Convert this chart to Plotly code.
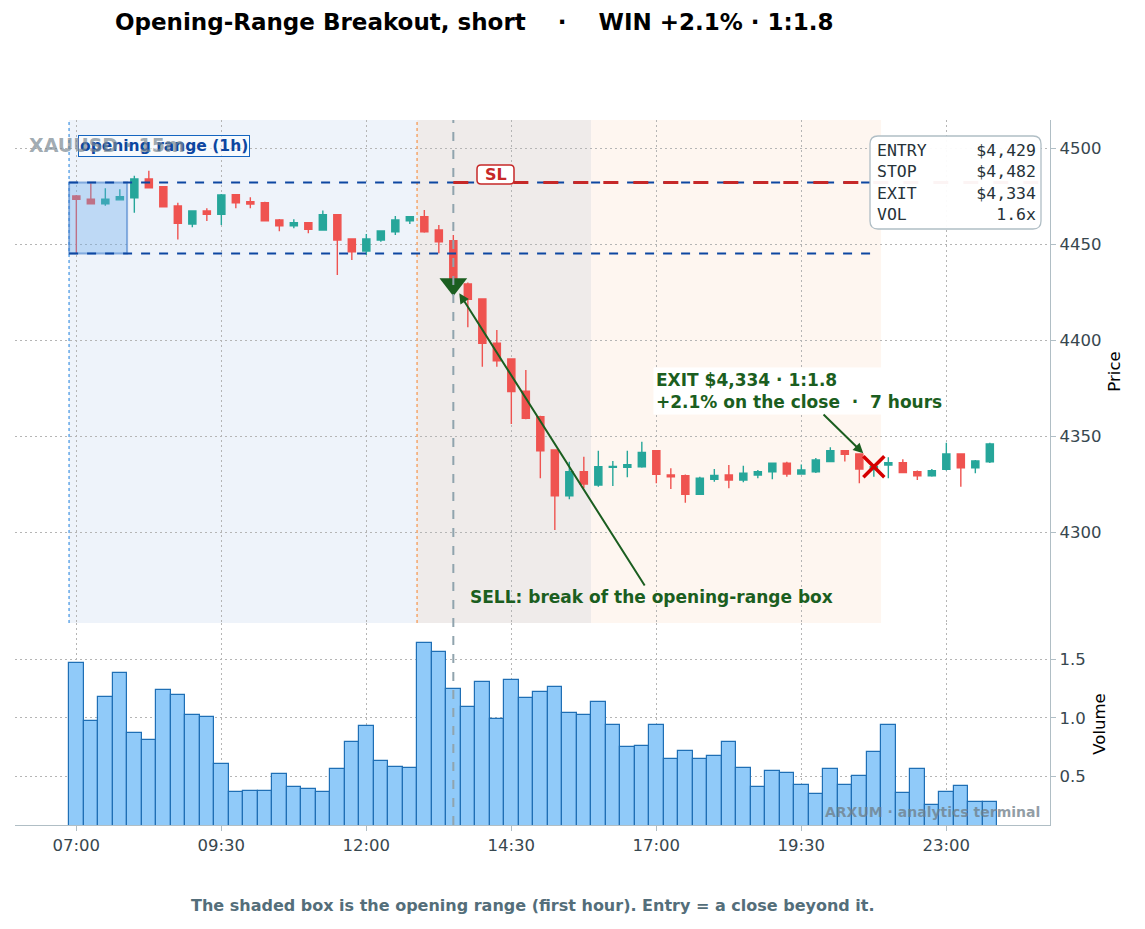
import plotly.graph_objects as go

# ---------------- data ----------------
times = ["07:00","07:15","07:30","07:45","08:00","08:15","08:30","08:45","09:00","09:15",
         "09:30","09:45","10:00","10:15","10:30","10:45","11:00","11:15","11:30","11:45",
         "12:00","12:15","12:30","12:45","13:00","13:15","13:30","13:45","14:00","14:15",
         "14:30","14:45","15:00","15:15","15:30","15:45","16:00","16:15","16:30","16:45",
         "17:00","17:15","17:30","17:45","18:00","18:15","18:30","18:45","19:00","19:15",
         "19:30","19:45","20:00","20:15","20:30","20:45","21:00","21:15","21:30","21:45",
         "23:00","23:15","23:30","23:45"]

opens = [4475.0,4473.4,4471.0,4473.0,4474.1,4483.9,4479.9,4469.8,4460.4,4467.2,
         4465.5,4475.7,4472.0,4471.5,4462.5,4459.5,4461.1,4457.3,4465.3,4452.6,
         4446.4,4452.1,4456.4,4462.1,4464.2,4457.3,4451.7,4429.2,4421.4,4398.3,
         4390.1,4373.4,4360.1,4342.7,4318.8,4331.4,4324.5,4333.7,4333.7,4334.0,
         4342.3,4329.7,4329.3,4319.6,4327.5,4329.7,4327.1,4329.7,4331.4,4335.8,
         4330.2,4331.4,4336.7,4342.3,4340.6,4332.5,4334.9,4336.1,4331.4,4329.3,
         4332.7,4340.6,4333.5,4336.6]
highs = [4475.5,4481.6,4479.0,4478.5,4485.6,4488.2,4480.2,4471.5,4467.5,4468.6,
         4476.0,4476.0,4474.3,4472.0,4463.0,4462.9,4461.5,4467.4,4465.5,4453.0,
         4455.2,4457.0,4464.6,4464.5,4467.7,4459.9,4454.7,4429.9,4421.5,4405.2,
         4390.5,4384.4,4360.5,4343.0,4336.6,4339.2,4342.3,4337.0,4342.3,4347.0,
         4342.5,4333.2,4330.0,4328.8,4332.8,4334.9,4334.5,4332.3,4336.0,4336.6,
         4335.2,4338.5,4344.1,4342.5,4341.0,4335.0,4339.0,4337.9,4332.0,4332.8,
         4346.5,4341.0,4337.5,4346.5]
lows = [4445.3,4470.8,4470.0,4472.8,4466.3,4479.0,4469.2,4452.4,4458.7,4462.0,
        4459.9,4468.6,4468.6,4462.0,4456.6,4458.2,4455.6,4457.0,4433.9,4441.7,
        4444.3,4451.2,4454.7,4460.4,4455.9,4445.2,4429.0,4406.7,4386.1,4386.1,
        4356.3,4358.7,4328.0,4301.0,4317.0,4322.8,4323.6,4324.0,4328.5,4333.5,
        4325.4,4322.4,4315.3,4319.5,4326.2,4322.8,4325.9,4328.0,4327.5,4328.8,
        4329.9,4330.7,4336.5,4336.7,4325.4,4328.8,4328.0,4330.8,4327.1,4328.8,
        4332.0,4323.6,4330.6,4336.0]
closes = [4473.3,4471.0,4473.4,4474.6,4483.9,4479.3,4469.4,4460.8,4467.2,4465.5,
          4475.5,4471.5,4470.8,4462.1,4459.5,4461.1,4457.7,4465.3,4452.1,4446.0,
          4452.6,4456.8,4462.5,4464.2,4456.4,4451.2,4429.5,4421.2,4398.3,4389.2,
          4373.1,4359.2,4342.3,4318.8,4331.4,4325.0,4334.0,4334.2,4335.0,4341.5,
          4330.0,4328.8,4319.6,4328.0,4329.4,4327.1,4330.6,4331.4,4335.8,4330.2,
          4332.3,4337.5,4342.3,4340.5,4332.8,4334.0,4336.1,4331.0,4329.3,4331.9,
          4340.6,4333.5,4337.0,4345.8]
volume = [1.466,0.970,1.175,1.380,0.868,0.808,1.235,1.192,1.021,1.004,
          0.603,0.363,0.372,0.372,0.517,0.406,0.389,0.363,0.560,0.791,
          0.927,0.628,0.577,0.568,1.637,1.560,1.244,1.090,1.303,0.987,
          1.321,1.167,1.218,1.261,1.038,1.021,1.132,0.936,0.748,0.756,
          0.936,0.645,0.714,0.645,0.671,0.791,0.568,0.406,0.543,0.526,
          0.423,0.346,0.560,0.423,0.500,0.705,0.936,0.355,0.560,0.252,
          0.363,0.415,0.278,0.278]

tick_idx = [0, 10, 20, 30, 40, 50, 60]
tick_labels = [times[i] for i in tick_idx]

or_high, or_low = 4482, 4445
or_start, or_end = 0, 3          # opening range bars (first hour)
entry_idx, entry_px = 26, 4429
exit_idx, exit_px = 55, 4334
stop_px = 4482
setup_end, trade_start, trend_end, trade_end = 23, 26, 35, 55

idx = list(range(len(times)))

# ---------------- geometry helpers (screen pixel -> paper) ----------------
OFF = 8                      # page body margin
W, H = 1145, 929
SX0, SX1, SY0, SY1 = 15, 1050, 120, 825   # plot area on screen
L, R = SX0 - OFF, W - (SX1 - OFF)
T, B = SY0 - OFF, H - (SY1 - OFF)
PW, PH = SX1 - SX0, SY1 - SY0
def px(x): return (x - SX0) / PW
def py(y): return (SY1 - y) / PH

X_RANGE = [-4.23, 67.15]
price_dom = [py(623), 1.0]
vol_dom = [0.0, py(623)]

fig = go.Figure()

fig.add_trace(go.Candlestick(
    x=idx, open=opens, high=highs, low=lows, close=closes,
    increasing=dict(line=dict(color="#26a69a", width=1.4), fillcolor="#26a69a"),
    decreasing=dict(line=dict(color="#ef5350", width=1.4), fillcolor="#ef5350"),
    whiskerwidth=0, showlegend=False, xaxis="x", yaxis="y", hoverinfo="skip"))

fig.add_trace(go.Bar(
    x=idx, y=volume, width=1.0,
    marker=dict(color="#90caf9", line=dict(color="#1f6fb5", width=1.2)),
    showlegend=False, xaxis="x", yaxis="y2", hoverinfo="skip"))

fig.add_trace(go.Scatter(
    x=[entry_idx], y=[entry_px], mode="markers",
    marker=dict(symbol="triangle-down", size=24, color="#1b5e20"),
    showlegend=False, xaxis="x", yaxis="y", hoverinfo="skip"))

fig.add_trace(go.Scatter(
    x=[exit_idx], y=[exit_px], mode="markers",
    marker=dict(symbol="x-thin", size=21, color="#d50000",
                line=dict(color="#d50000", width=3.5)),
    showlegend=False, xaxis="x", yaxis="y", hoverinfo="skip"))

shapes = []
# session shading
shapes.append(dict(type="rect", xref="x", yref="y domain", x0=or_start - 0.5, x1=setup_end + 0.5,
                   y0=0, y1=1, fillcolor="#eef3fa", line=dict(width=0), layer="below"))
shapes.append(dict(type="rect", xref="x", yref="y domain", x0=setup_end + 0.5, x1=trend_end + 0.5,
                   y0=0, y1=1, fillcolor="#efebea", line=dict(width=0), layer="below"))
shapes.append(dict(type="rect", xref="x", yref="y domain", x0=trend_end + 0.5, x1=trade_end + 0.5,
                   y0=0, y1=1, fillcolor="#fef6f0", line=dict(width=0), layer="below"))
# dotted session boundaries
shapes.append(dict(type="line", xref="x", yref="y domain", x0=or_start - 0.5, x1=or_start - 0.5,
                   y0=0, y1=1, line=dict(color="#64a8e8", width=1.5, dash="dot")))
shapes.append(dict(type="line", xref="x", yref="y domain", x0=setup_end + 0.5, x1=setup_end + 0.5,
                   y0=0, y1=1, line=dict(color="#f4a66c", width=1.5, dash="dot")))
# opening range box
shapes.append(dict(type="rect", xref="x", yref="y", x0=or_start - 0.5, x1=or_end + 0.5,
                   y0=or_low, y1=or_high, fillcolor="rgba(100,170,235,0.35)",
                   line=dict(color="rgba(60,120,200,0.55)", width=2), layer="above"))
# opening range levels
for lvl in (or_high, or_low):
    shapes.append(dict(type="line", xref="x", yref="y", x0=or_start - 0.5, x1=trade_end,
                       y0=lvl, y1=lvl, line=dict(color="#0d47a1", width=2, dash="dash")))
# stop line
shapes.append(dict(type="line", xref="x", yref="y", x0=entry_idx, x1=X_RANGE[1],
                   y0=stop_px, y1=stop_px, line=dict(color="#c62828", width=3, dash="longdash")))
# entry vertical
shapes.append(dict(type="line", xref="x", yref="paper", x0=entry_idx, x1=entry_idx,
                   y0=0, y1=1, line=dict(color="#90a4ae", width=2, dash="dash")))

# rounded info box
def rounded(x0, y0, x1, y1, r):
    return (f"M {px(x0 + r)},{py(y0)} L {px(x1 - r)},{py(y0)} "
            f"Q {px(x1)},{py(y0)} {px(x1)},{py(y0 + r)} "
            f"L {px(x1)},{py(y1 - r)} Q {px(x1)},{py(y1)} {px(x1 - r)},{py(y1)} "
            f"L {px(x0 + r)},{py(y1)} Q {px(x0)},{py(y1)} {px(x0)},{py(y1 - r)} "
            f"L {px(x0)},{py(y0 + r)} Q {px(x0)},{py(y0)} {px(x0 + r)},{py(y0)} Z")
shapes.append(dict(type="path", xref="paper", yref="paper", path=rounded(870, 136, 1041, 229, 8),
                   fillcolor="rgba(255,255,255,0.95)", line=dict(color="#b0bec5", width=1.3),
                   layer="above"))
# rounded SL tag box
shapes.append(dict(type="path", xref="paper", yref="paper", path=rounded(477, 165, 514, 184, 4),
                   fillcolor="white", line=dict(color="#c62828", width=1.5), layer="above"))

NB = "\u00a0"
def pad(label, value, n=16):
    return label + NB * (n - len(label) - len(value)) + value
info_lines = [pad("ENTRY", "$4,429"), pad("STOP", "$4,482"),
              pad("EXIT", "$4,334"), pad("VOL", "1.6x")]

annotations = [
    dict(xref="paper", yref="paper", x=px(78), y=py(145.5), xanchor="left", yanchor="middle",
         text="<b>opening range (1h)</b>", showarrow=False,
         font=dict(family="DejaVu Sans", size=15.5, color="#0d47a1"),
         bgcolor="rgba(255,255,255,0.55)", bordercolor="#1565c0", borderwidth=1, borderpad=1),
    dict(xref="paper", yref="paper", x=px(27), y=py(145), xanchor="left", yanchor="middle",
         text="<b>XAUUSD · 15m</b>", showarrow=False,
         font=dict(family="DejaVu Sans", size=19, color="rgba(120,135,145,0.7)")),
    dict(xref="paper", yref="paper", x=px(495.5), y=py(174.5), xanchor="center", yanchor="middle",
         text="<b>SL</b>", showarrow=False,
         font=dict(family="DejaVu Sans", size=16, color="#c62828")),
    dict(xref="x", yref="y", x=26.41, y=4424.3, axref="x", ayref="y", ax=39.7, ay=4266.1,
         text="<b>SELL: break of the opening-range box</b>", showarrow=True,
         arrowhead=2, arrowsize=1, arrowwidth=2, arrowcolor="#1b5e20",
         font=dict(family="DejaVu Sans", size=17, color="#1b5e20")),
    dict(xref="x", yref="y", x=54.27, y=4341.0, axref="x", ayref="y", ax=49.87, ay=4373.4,
         text="<b>EXIT $4,334 · 1:1.8</b><br><b>+2.1% on the close" + NB * 2 + "·" + NB * 2 + "7 hours</b>",
         align="left", showarrow=True, bgcolor="white", borderpad=2,
         arrowhead=2, arrowsize=1, arrowwidth=2, arrowcolor="#1b5e20",
         font=dict(family="DejaVu Sans", size=17, color="#1b5e20")),
    dict(xref="paper", yref="paper", x=px(956), y=py(182.5), xanchor="center", yanchor="middle",
         text="<br>".join(info_lines), align="left", showarrow=False,
         font=dict(family="DejaVu Sans Mono", size=16.5, color="#263238")),
    dict(xref="paper", yref="paper", x=px(1042), y=py(812), xanchor="right", yanchor="middle",
         text="<b>ARXUM · analytics terminal</b>", showarrow=False,
         font=dict(family="DejaVu Sans", size=14, color="rgba(110,125,135,0.75)")),
    dict(xref="paper", yref="paper", x=0.5, y=py(905), xanchor="center", yanchor="middle",
         text="<b>The shaded box is the opening range (first hour). Entry = a close beyond it.</b>",
         showarrow=False, font=dict(family="DejaVu Sans", size=16, color="#546e7a")),
]

grid = dict(showgrid=True, gridcolor="#b5b5b5", gridwidth=1, griddash="2px,3px")

fig.update_layout(
    width=W, height=H,
    margin=dict(l=L, r=R, t=T, b=B),
    paper_bgcolor="white", plot_bgcolor="white",
    font=dict(family="DejaVu Sans", size=16, color="#37474f"),
    title=dict(text="<b>Opening-Range Breakout, short" + NB * 4 + "·" + NB * 4 + "WIN +2.1% · 1:1.8</b>",
               x=(115 - OFF) / W, xref="container", xanchor="left",
               y=1 - (22 - OFF) / H, yref="container", yanchor="middle",
               font=dict(family="DejaVu Sans", size=23, color="black")),
    xaxis=dict(domain=[0, 1], anchor="y2", range=X_RANGE, tickvals=tick_idx, ticktext=tick_labels,
               showline=True, linecolor="#b0bec5", linewidth=1.2, ticks="outside", ticklen=5,
               tickcolor="#b0bec5", zeroline=False, rangeslider=dict(visible=False),
               tickfont=dict(size=16.5, color="#37474f"), **grid),
    yaxis=dict(domain=price_dom, anchor="x", side="right", range=[4252.6, 4514.6],
               tickvals=[4300, 4350, 4400, 4450, 4500], showline=True, linecolor="#b0bec5",
               linewidth=1.2, ticks="outside", ticklen=5, tickcolor="#b0bec5", zeroline=False,
               title=dict(text="Price", font=dict(size=16.5, color="black"), standoff=8),
               tickfont=dict(size=16.5, color="#37474f"), **grid),
    yaxis2=dict(domain=vol_dom, anchor="x", side="right", range=[0.081, 1.812],
                tickvals=[0.5, 1.0, 1.5], ticktext=["0.5", "1.0", "1.5"], showline=True,
                linecolor="#b0bec5", linewidth=1.2, ticks="outside", ticklen=5, tickcolor="#b0bec5",
                zeroline=False, title=dict(text="Volume", font=dict(size=16.5, color="black"), standoff=8),
                tickfont=dict(size=16.5, color="#37474f"), **grid),
    shapes=shapes, annotations=annotations, bargap=0, showlegend=False,
)

fig.write_html("out.html")
